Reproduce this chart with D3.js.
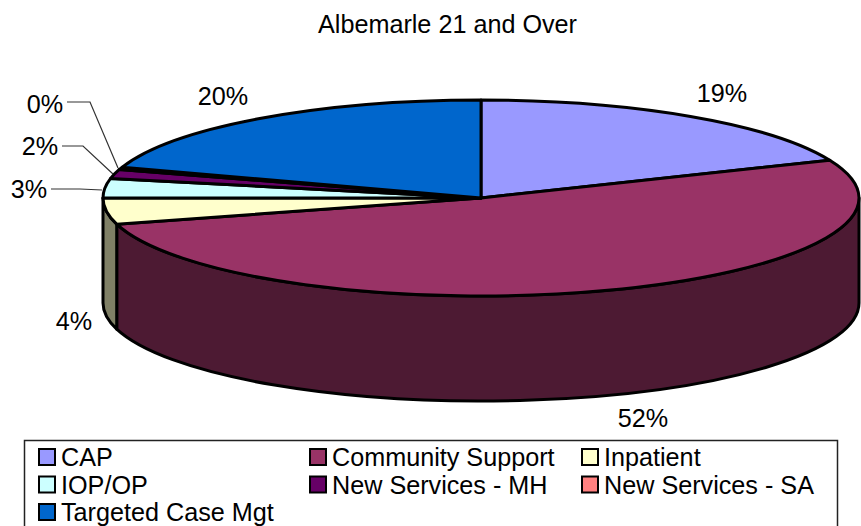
<!DOCTYPE html>
<html>
<head>
<meta charset="utf-8">
<style>
html, body { margin: 0; padding: 0; background: #fff; overflow: hidden; }
svg { display: block; }
text { font-family: "Liberation Sans", Arial, sans-serif; fill: #000; }
</style>
<script src="https://cdn.jsdelivr.net/npm/d3@7"></script>
</head>
<body>
<svg id="chart" width="861" height="526"></svg>
<script>
// data
var title = 'Albemarle 21 and Over'
var categories = ['CAP', 'Community Support', 'Inpatient', 'IOP/OP', 'New Services - MH', 'New Services - SA', 'Targeted Case Mgt']
var shares = [18.7, 52, 4.3, 3.2, 1.5, 0.4, 19.9]
var shareLabels = ['19%', '52%', '4%', '3%', '2%', '0%', '20%']
var colors = ['#9999ff', '#993366', '#ffffcc', '#ccffff', '#660066', '#ff8080', '#0066cc']

// pie geometry
var cx = 481, cy = 198, rx = 378, ry = 98, depth = 105
var fontSize = 25.2

var svg = d3.select('#chart')

svg.append('text')
  .attr('x', 447.5).attr('y', 33)
  .attr('text-anchor', 'middle')
  .attr('font-size', fontSize)
  .text(title)

var pie = d3.pie().sort(null).value(function(d) { return d.share })
var slices = pie(categories.map(function(c, i) {
  return { name: c, share: shares[i], label: shareLabels[i], color: colors[i] }
}))

function px(a) { return cx + rx * Math.sin(a) }
function py(a) { return cy - ry * Math.cos(a) }

function topPath(s) {
  var large = s.endAngle - s.startAngle > Math.PI ? 1 : 0
  return 'M' + cx + ',' + cy + 'L' + px(s.startAngle) + ',' + py(s.startAngle) +
    'A' + rx + ',' + ry + ' 0 ' + large + ' 1 ' + px(s.endAngle) + ',' + py(s.endAngle) + 'Z'
}

// only the part of the rim between 90 and 270 degrees faces the viewer
function sidePath(s) {
  var a0 = Math.max(s.startAngle, Math.PI / 2)
  var a1 = Math.min(s.endAngle, Math.PI * 1.5)
  if (a1 <= a0) return null
  return 'M' + px(a0) + ',' + py(a0) +
    'A' + rx + ',' + ry + ' 0 0 1 ' + px(a1) + ',' + py(a1) +
    'L' + px(a1) + ',' + (py(a1) + depth) +
    'A' + rx + ',' + ry + ' 0 0 0 ' + px(a0) + ',' + (py(a0) + depth) + 'Z'
}

function darker(c) {
  var r = d3.rgb(c)
  return d3.rgb(r.r / 2, r.g / 2, r.b / 2).formatHex()
}

var g = svg.append('g').attr('stroke', '#000').attr('stroke-width', 3).attr('stroke-linejoin', 'round')

g.selectAll('path.side')
  .data(slices.filter(function(s) { return sidePath(s) }))
  .enter().append('path')
  .attr('class', 'side')
  .attr('d', sidePath)
  .attr('fill', function(d) { return darker(d.data.color) })

g.selectAll('path.top')
  .data(slices)
  .enter().append('path')
  .attr('class', 'top')
  .attr('d', topPath)
  .attr('fill', function(d) { return d.data.color })

// label spots, in the order of the categories
var labelSpots = [[722, 102], [643, 427], [74, 330], [29, 198], [40, 155], [45, 113], [223, 105]]
var leaders = {
  3: [[51, 189], [80, 189], [102, 190]],
  4: [[62, 146], [83, 146], [113, 174]],
  5: [[67, 102], [90, 102], [118, 168]]
}

svg.selectAll('text.pct')
  .data(slices)
  .enter().append('text')
  .attr('class', 'pct')
  .attr('x', function(d, i) { return labelSpots[i][0] })
  .attr('y', function(d, i) { return labelSpots[i][1] })
  .attr('text-anchor', 'middle')
  .attr('font-size', fontSize)
  .text(function(d) { return d.data.label })

var line = d3.line()
Object.keys(leaders).forEach(function(k) {
  svg.append('path')
    .attr('d', line(leaders[k]))
    .attr('fill', 'none')
    .attr('stroke', '#333')
    .attr('stroke-width', 1.2)
})

// legend, the box runs past the bottom of the picture
svg.append('rect')
  .attr('x', 24.5).attr('y', 440.5)
  .attr('width', 813).attr('height', 95)
  .attr('fill', '#fff').attr('stroke', '#222').attr('stroke-width', 1.5)

var legendCols = [38, 309, 581]
var legend = svg.selectAll('g.legend')
  .data(categories)
  .enter().append('g')
  .attr('class', 'legend')
  .attr('transform', function(d, i) {
    return 'translate(' + legendCols[i % 3] + ',' + (448 + Math.floor(i / 3) * 27.5) + ')'
  })

legend.append('rect')
  .attr('x', 1).attr('y', 1)
  .attr('width', 16).attr('height', 16)
  .attr('fill', function(d, i) { return colors[i] })
  .attr('stroke', '#000').attr('stroke-width', 2)

legend.append('text')
  .attr('x', 23).attr('y', 18)
  .attr('font-size', fontSize)
  .text(function(d) { return d })
</script>
</body>
</html>
